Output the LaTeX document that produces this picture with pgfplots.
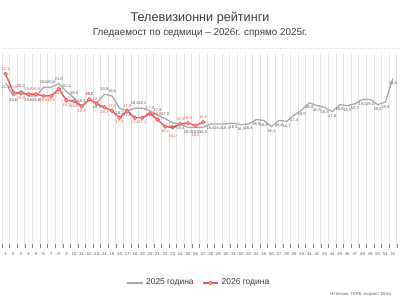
\documentclass[border=0pt]{standalone}
\usepackage{pgfplots}
\pgfplotsset{compat=1.18}
\usepackage{pgfplotstable}
\usepackage{fontspec}
\setmainfont{Liberation Sans}
\definecolor{gline}{HTML}{A8A8A8}
\definecolor{rline}{HTML}{F0595A}
\definecolor{rfill}{HTML}{F7A79E}
\definecolor{gridc}{HTML}{E4E4E4}
\definecolor{txt}{HTML}{3A3A3A}
\definecolor{glab}{HTML}{595959}

\pgfplotstableread{
w v
1 21.1
2 19.6
3 20.2
4 19.6
5 19.6
6 20.6
7 20.6
8 21.0
9 20.1
10 19.4
11 18.4
12 19.2
13 18.8
14 19.8
15 19.6
16 18.2
17 17.9
18 18.2
19 18.2
20 17.9
21 17.4
22 17.0
23 16.5
24 16.4
25 16.0
26 16.0
27 16.0
28 16.4
29 16.4
30 16.4
31 16.5
32 16.3
33 16.4
34 16.9
35 16.8
36 16.1
37 16.8
38 16.7
39 17.4
40 18.0
41 18.8
42 18.5
43 18.3
44 17.8
45 18.6
46 18.5
47 18.7
48 19.2
49 19.2
50 18.6
51 18.9
52 21.6
}\grayt

\pgfplotstableread{
w v
1 22.1
2 20.0
3 19.9
4 19.8
5 19.8
6 19.6
7 19.6
8 20.4
9 19.1
10 19.0
11 18.4
12 19.2
13 18.7
14 18.3
15 17.9
16 17.1
17 17.9
18 17.1
19 17.1
20 17.6
21 16.9
22 16.1
23 16.0
24 16.4
25 16.5
26 16.2
27 16.6
}\redt

\begin{document}
\begin{tikzpicture}
\path[use as bounding box] (0,0) rectangle (10,7.5);
\node[txt] at (5,7.05) {\fontsize{9}{10}\selectfont Телевизионни рейтинги};
\node[txt] at (5,6.68) {\fontsize{7}{8}\selectfont Гледаемост по седмици – 2026г. спрямо 2025г.};
\draw[gridc, densely dotted, line width=0.4pt] (0.05,6.3) -- (9.95,6.3);
\begin{axis}[
  at={(0.0475cm,1.3cm)}, anchor=south west,
  scale only axis, width=9.87cm, height=4.85cm,
  xmin=0.5, xmax=52.5, ymin=2.2, ymax=24.4,
  axis y line=none,
  axis x line*=bottom,
  x axis line style={draw=none},
  xtick={1,...,52},
  major tick length=0pt,
  minor xtick={0.5,1.5,...,52.5},
  xminorgrids,
  minor grid style={gridc, line width=0.5pt},
  xticklabel style={font=\fontsize{3}{3}\selectfont, text=glab, yshift=0.5pt},
  /pgf/number format/assume math mode=true,
  clip=false,
  legend style={draw=none, at={(0.5,-0.18)}, anchor=center, legend columns=2,
    font=\fontsize{6}{7}\selectfont, text=txt, /tikz/every even column/.append style={column sep=4pt}},
  labA/.style={draw=none, mark=none, forget plot,
    nodes near coords={\pgfmathprintnumber[fixed,precision=1,zerofill,use comma]{\pgfplotspointmeta}},
    nodes near coords style={font=\fontsize{2.9}{3}\selectfont, anchor=center, yshift=3.4pt}},
  labB/.style={draw=none, mark=none, forget plot,
    nodes near coords={\pgfmathprintnumber[fixed,precision=1,zerofill,use comma]{\pgfplotspointmeta}},
    nodes near coords style={font=\fontsize{2.9}{3}\selectfont, anchor=center, yshift=-3.4pt}},
  labC/.style={draw=none, mark=none, forget plot,
    nodes near coords={\pgfmathprintnumber[fixed,precision=1,zerofill,use comma]{\pgfplotspointmeta}},
    nodes near coords style={font=\fontsize{2.9}{3}\selectfont, anchor=center, yshift=-6.6pt}},
]
\addplot[gline, line width=0.9pt, mark=none,
  legend image code/.code={\draw[gline, line width=0.9pt] (0pt,0pt) -- (11pt,0pt);}]
  table[x=w, y=v] {\grayt};
\addlegendentry{2025 година}
\addplot[rline, line width=1pt, mark=*, mark size=1.3pt, mark options={fill=rfill, draw=rline, line width=0.5pt},
  legend image code/.code={\draw[rline, line width=1pt] (0pt,0pt) -- (11pt,0pt);
    \fill[rfill, draw=rline, line width=0.5pt] (5.5pt,0pt) circle (1.3pt);}]
  table[x=w, y=v] {\redt};
\addlegendentry{2026 година}
% gray labels
\addplot[labA, nodes near coords style={text=glab}] coordinates {
 (3,20.2) (6,20.6) (7,20.6) (8,21.0) (9,20.1) (10,19.4) (11,18.4) (12,19.2) (14,19.8) (15,19.6)
 (18,18.2) (19,18.2) (21,17.4) (22,17.0)};
\addplot[labB, nodes near coords style={text=glab}] coordinates {
 (1,21.1) (2,19.6) (4,19.6) (5,19.6) (13,18.8) (16,18.2) (17,17.9) (20,17.9) (23,16.5) (24,16.4)
 (25,16.0) (26,16.0) (27,16.0) (28,16.4) (29,16.4) (30,16.4) (31,16.5) (32,16.3) (33,16.4) (34,16.9)
 (35,16.8) (36,16.1) (37,16.8) (38,16.7) (39,17.4) (40,18.0) (41,18.8) (42,18.5) (43,18.3) (44,17.8)
 (45,18.6) (46,18.5) (47,18.7) (48,19.2) (49,19.2) (50,18.6) (51,18.9) (52,21.6)};
% red labels
\addplot[labA, nodes near coords style={text=rline}] coordinates {
 (1,22.1) (2,20.0) (4,19.8) (5,19.8) (12,19.2) (13,18.7) (15,17.9) (17,17.9) (20,17.6) (21,16.9)
 (24,16.4) (25,16.5) (27,16.6)};
\addplot[labB, nodes near coords style={text=rline}] coordinates {
 (3,19.9) (6,19.6) (7,19.6) (8,20.4) (9,19.1) (10,19.0) (11,18.4) (14,18.3) (16,17.1) (18,17.1)
 (19,17.1) (22,16.1)};
\addplot[labC, nodes near coords style={text=rline}] coordinates {(23,16.0) (26,16.2)};
\end{axis}
\node[anchor=east, text=glab] at (9.9,0.13) {\fontsize{3}{3}\selectfont Източник: ГАРБ, възраст 18-64};
\end{tikzpicture}
\end{document}
